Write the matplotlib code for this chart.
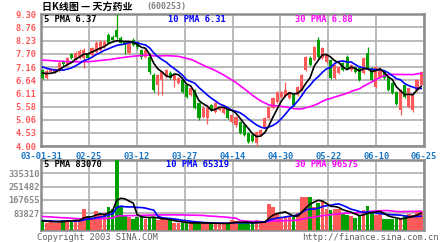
import matplotlib
matplotlib.use('Agg')
import matplotlib.pyplot as plt
import numpy as np
import pandas as pd

plt.rcParams['font.family'] = ['DejaVu Sans']

# ---------------- data ----------------
title_main = '日K线图 — 天方药业'
title_code = '(600253)'
date_labels = ['03-01-31', '02-25', '03-12', '03-27', '04-14', '04-30', '05-22', '06-10', '06-25']
price_ticks = [4.00, 4.53, 5.06, 5.58, 6.11, 6.64, 7.16, 7.70, 8.23, 8.76, 9.30]
vol_ticks = [0, 83827, 167655, 251482, 335310, 419137]
price_legend = ['5 PMA 6.37', '10 PMA 6.31', '30 PMA 6.88']
vol_legend = ['5 PMA 83070', '10 PMA 65319', '30 PMA 96575']

opens = [7.05, 6.75, 6.98, 6.97, 7.03, 7.38, 7.25, 7.68, 7.45, 7.55,
         7.52, 7.65, 7.65, 7.78, 7.85, 7.98, 8.45, 8.38, 8.65, 8.33,
         8.20, 7.75, 8.25, 8.17, 7.85, 7.57, 7.57, 6.85, 6.45, 6.65,
         6.80, 6.93, 6.65, 6.53, 6.65, 6.45, 6.05, 6.25, 5.73, 5.17,
         5.12, 5.65, 5.37, 5.45, 5.33, 5.45, 4.96, 4.84, 4.96, 4.84,
         4.52, 4.44, 4.12, 4.44, 4.72, 5.12, 5.53, 5.77, 5.97, 6.00,
         5.93, 6.05, 6.05, 6.25, 7.05, 7.53, 7.45, 8.26, 7.53, 7.37,
         7.45, 6.73, 6.93, 7.33, 7.57, 7.05, 7.17, 7.13, 6.93, 7.73,
         7.13, 6.37, 6.77, 6.97, 6.77, 6.53, 6.17, 5.45, 6.45, 5.57,
         5.45, 6.25, 6.45]
highs = [7.10, 7.08, 7.15, 7.12, 7.40, 7.45, 7.58, 7.75, 7.80, 7.88,
         7.92, 7.72, 7.98, 8.20, 8.25, 8.25, 8.55, 8.45, 9.30, 8.40,
         8.25, 8.22, 8.32, 8.22, 7.90, 7.92, 7.65, 6.92, 6.90, 7.02,
         7.10, 7.00, 6.90, 6.78, 6.70, 6.50, 6.40, 6.30, 5.78, 5.60,
         5.58, 5.70, 5.78, 5.60, 5.58, 5.50, 5.30, 5.20, 5.02, 4.90,
         4.58, 4.48, 4.60, 4.70, 5.18, 5.62, 5.98, 6.22, 6.22, 6.57,
         6.22, 6.10, 6.42, 6.90, 7.62, 7.60, 8.03, 8.38, 7.98, 7.70,
         7.50, 7.30, 7.22, 7.38, 7.65, 7.30, 7.22, 7.18, 7.58, 7.97,
         7.18, 7.22, 7.10, 7.02, 6.82, 6.58, 6.22, 6.30, 6.50, 6.38,
         6.10, 6.70, 7.02]
lows = [6.68, 6.70, 6.92, 6.93, 6.98, 7.22, 7.20, 7.48, 7.40, 7.50,
        7.15, 7.50, 7.60, 7.72, 7.80, 7.92, 8.08, 8.20, 8.30, 8.05,
        7.70, 7.70, 8.00, 7.90, 7.50, 7.52, 6.90, 6.18, 6.05, 6.05,
        6.75, 6.68, 6.37, 6.48, 6.12, 5.92, 6.00, 5.48, 5.05, 5.12,
        4.90, 5.40, 5.32, 5.40, 5.28, 5.08, 4.92, 4.76, 4.48, 4.40,
        4.12, 4.15, 4.00, 4.40, 4.68, 5.08, 5.48, 5.72, 5.92, 5.95,
        5.88, 5.60, 6.00, 6.20, 7.00, 7.20, 7.40, 7.52, 7.48, 7.32,
        6.68, 6.68, 6.88, 7.00, 7.08, 7.00, 6.92, 6.60, 6.88, 7.08,
        6.60, 6.32, 6.72, 6.70, 6.20, 6.08, 5.65, 5.24, 5.92, 5.52,
        5.37, 6.20, 6.40]
closes = [6.73, 7.03, 7.10, 7.08, 7.35, 7.28, 7.52, 7.52, 7.75, 7.80,
          7.85, 7.55, 7.93, 8.13, 8.17, 8.18, 8.14, 8.26, 8.37, 8.13,
          8.05, 8.17, 8.06, 7.97, 7.57, 7.85, 6.97, 6.25, 6.85, 6.97,
          7.05, 6.73, 6.85, 6.73, 6.17, 5.97, 6.33, 5.53, 5.12, 5.53,
          5.53, 5.45, 5.73, 5.53, 5.53, 5.12, 5.24, 5.16, 4.52, 4.44,
          4.16, 4.20, 4.56, 4.64, 5.12, 5.57, 5.93, 6.17, 6.17, 6.25,
          6.17, 5.65, 6.37, 6.85, 7.57, 7.25, 7.98, 7.57, 7.93, 7.65,
          6.73, 7.25, 7.17, 7.05, 7.13, 7.25, 6.97, 6.65, 7.53, 7.13,
          6.65, 7.17, 7.05, 6.75, 6.25, 6.13, 5.70, 6.25, 5.97, 6.33,
          6.05, 6.65, 6.97]
volumes = [38000, 25000, 30000, 25000, 35000, 38000, 42000, 38000, 38000, 38000,
           113000, 69000, 50000, 95000, 70000, 88000, 126000, 113000, 430000, 132000,
           69000, 60000, 50000, 60000, 69000, 50000, 57000, 57000, 38000, 45000,
           38000, 38000, 25000, 19000, 25000, 25000, 19000, 25000, 22000, 20000,
           22000, 18000, 20000, 19000, 19000, 22000, 38000, 35000, 22000, 19000,
           22000, 20000, 38000, 30000, 30000, 139000, 120000, 88000, 57000, 57000,
           69000, 57000, 88000, 183000, 189000, 189000, 120000, 145000, 158000, 113000,
           101000, 113000, 113000, 85000, 75000, 65000, 55000, 65000, 105000, 130000,
           85000, 75000, 78000, 48000, 50000, 45000, 50000, 45000, 70000, 80000,
           75000, 90000, 100000]
# sessions before the first visible candle (needed for the moving averages)
prior_closes = [7.35, 7.42, 7.50, 7.58, 7.62, 7.70, 7.75, 7.80, 7.72, 7.68,
                7.65, 7.60, 7.55, 7.62, 7.70, 7.66, 7.58, 7.52, 7.45, 7.35,
                7.55, 7.48, 7.42, 7.35, 7.25, 7.15, 7.02, 6.93, 6.82]
prior_volumes = [60000, 70000, 85000, 95000, 80000, 75000, 90000, 110000, 85000, 70000,
                 65000, 80000, 75000, 70000, 60000, 85000, 75000, 70000, 60000, 50000,
                 48000, 42000, 40000, 38000, 37000, 36000, 34000, 35000, 32000]

# ---------------- style ----------------
RED = '#ff5a5a'
GREEN = '#00a000'
BLUE = '#0000ff'
MAG = '#ff00ff'
GRID = '#b4b4b4'
FRAME = '#8c8c8c'
XLAB = '#1a74c4'
MONO = 'DejaVu Sans Mono'

W, H = 440, 242
fig = plt.figure(figsize=(W / 100, H / 100), dpi=100)
fig.patch.set_facecolor('white')

def px(x0, y0, x1, y1):
    return [x0 / W, 1 - y1 / H, (x1 - x0) / W, (y1 - y0) / H]

ax = fig.add_axes(px(41, 14, 424, 146))
axv = fig.add_axes(px(41, 160, 424, 230))

n = len(closes)
x = np.arange(n)
o = np.array(opens); h = np.array(highs); l = np.array(lows); c = np.array(closes)
up = c >= o
cols = np.where(up, RED, GREEN)

xlim = (-0.4, n - 0.3)
span = xlim[1] - xlim[0]
vgrid = [xlim[0] + k * span / 8 for k in range(9)]

# moving averages
sc = pd.Series(prior_closes + closes)
sv = pd.Series(prior_volumes + volumes)
k0 = len(prior_closes)
ma = {w: sc.rolling(w).mean().values[k0:] for w in (5, 10, 30)}
vma = {w: sv.rolling(w).mean().values[k0:] for w in (5, 10, 30)}

# --- price panel ---
ax.vlines(x, l, h, colors=cols, lw=0.9, zorder=3)
body_b = np.minimum(o, c)
body_h = np.maximum(np.abs(c - o), 0.02)
ax.bar(x, body_h, bottom=body_b, width=0.75, color=cols, lw=0, zorder=3)
ax.plot(x, ma[30], color=MAG, lw=1.2, zorder=4)
ax.plot(x, ma[10], color=BLUE, lw=1.2, zorder=5)
ax.plot(x, ma[5], color='black', lw=1.2, zorder=6)

ax.set_xlim(*xlim)
ax.set_ylim(price_ticks[0], price_ticks[-1])
ax.set_yticks(price_ticks)
ax.set_yticklabels([f'{t:.2f}' for t in price_ticks], fontfamily=MONO,
                   fontweight='bold', fontsize=6.3, color=RED)
ax.set_xticks(vgrid)
ax.set_xticklabels(date_labels, fontfamily=MONO, fontweight='bold',
                   fontsize=6.3, color=XLAB)
ax.tick_params(axis='y', length=0, pad=3)
ax.tick_params(axis='x', length=0, pad=4)
ax.grid(True, color=GRID, lw=1.3, zorder=0)
ax.set_axisbelow(True)

# --- volume panel ---
vbot = -22070
vol = np.array(volumes)
axv.bar(x, vol - vbot, bottom=vbot, width=0.9, color=cols, lw=0, zorder=3)
axv.plot(x, vma[30], color=MAG, lw=1.2, zorder=4)
axv.plot(x, vma[10], color=BLUE, lw=1.2, zorder=5)
axv.plot(x, vma[5], color='black', lw=1.2, zorder=6)
axv.set_xlim(*xlim)
axv.set_ylim(vbot, vol_ticks[-1])
axv.set_yticks(vol_ticks)
axv.set_yticklabels(['', '83827', '167655', '251482', '335310', ''],
                    fontfamily=MONO, fontweight='bold', fontsize=6.3, color='#8a8a8a')
axv.set_xticks(vgrid)
axv.set_xticklabels([])
axv.tick_params(length=0, pad=1)
axv.grid(True, color=GRID, lw=1.3, zorder=0)
axv.set_axisbelow(True)

for a in (ax, axv):
    for s in a.spines.values():
        s.set_color(FRAME)
        s.set_linewidth(1.8)

def ftxt(xp, yp, s, **kw):
    fig.text(xp / W, 1 - yp / H, s, **kw)

lg_kw = dict(fontfamily=MONO, fontweight='bold', fontsize=6.3, va='center', ha='left')
for (xp, col), s in zip([(44, 'black'), (168, BLUE), (295, MAG)], price_legend):
    ftxt(xp, 19.5, s, color=col, **lg_kw)
for (xp, col), s in zip([(44, 'black'), (166, BLUE), (295, MAG)], vol_legend):
    ftxt(xp, 164.5, s, color=col, **lg_kw)

ftxt(42, 6.5, title_main, fontfamily=['Noto Sans CJK SC', 'DejaVu Sans'],
     fontweight='bold', fontsize=7.2, color='black', va='center', ha='left')
ftxt(146, 6.5, title_code, fontfamily=MONO, fontweight='bold', fontsize=6.0,
     color='#808080', va='center', ha='left')

ftxt(37, 237, 'Copyright 2003 SINA.COM', fontfamily=MONO, fontsize=6.3,
     color='#606060', va='center', ha='left')
ftxt(302, 237, 'http://finance.sina.com.cn', fontfamily=MONO, fontsize=6.3,
     color='#606060', va='center', ha='left')

fig.savefig('out.png', dpi=100, facecolor='white')
